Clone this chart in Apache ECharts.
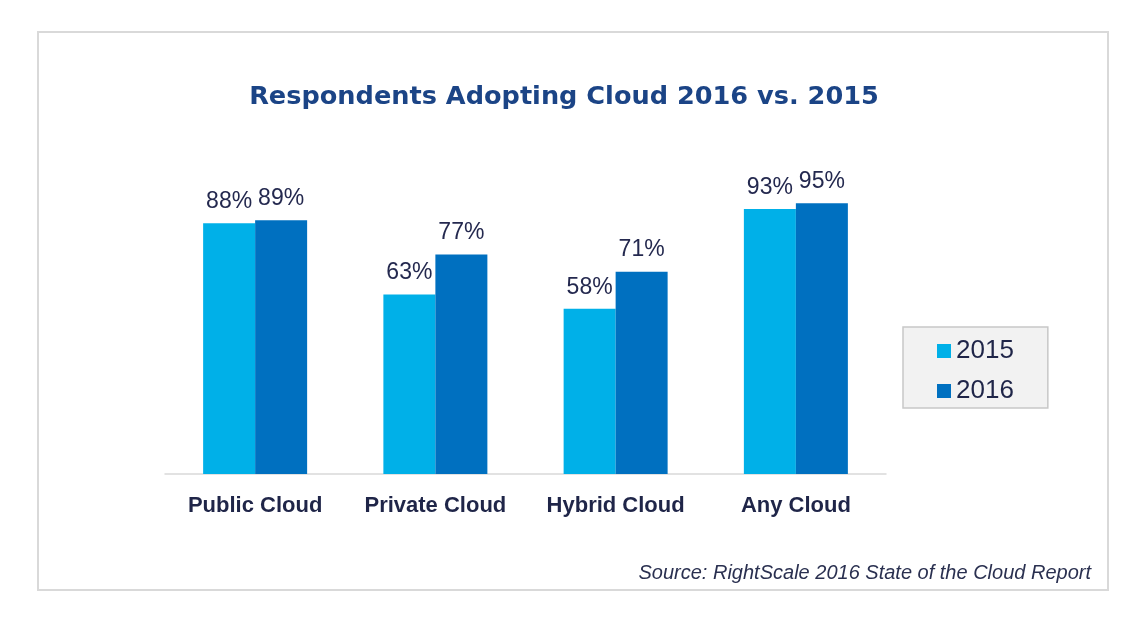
<!DOCTYPE html>
<html>
<head>
<meta charset="utf-8">
<script src="https://cdn.jsdelivr.net/npm/echarts@6/dist/echarts.min.js"></script>
<style>
html,body{margin:0;padding:0;background:#fff;}
#c{width:1144px;height:630px;}
</style>
</head>
<body>
<div id="c"></div>
<script>
const categories = ['Public Cloud', 'Private Cloud', 'Hybrid Cloud', 'Any Cloud'];
const values2015 = [88, 63, 58, 93];
const values2016 = [89, 77, 71, 95];
const seriesNames = ['2015', '2016'];

const chart = echarts.init(document.getElementById('c'), null, {renderer: 'canvas'});
const labelStyle = {
  show: true,
  position: 'top',
  distance: 10,
  formatter: '{c}%',
  fontFamily: 'Liberation Sans, Arial, sans-serif',
  fontSize: 23,
  color: '#24294f'
};
chart.setOption({
  backgroundColor: '#ffffff',
  animation: false,
  title: [{
    text: 'Respondents Adopting Cloud 2016 vs. 2015',
    left: 559,
    textAlign: 'center',
    top: 79,
    textStyle: {
      fontFamily: 'DejaVu Sans, sans-serif',
      fontWeight: 'bold',
      fontSize: 25.6,
      color: '#1b4486'
    }
  }, {
    text: 'Source: RightScale 2016 State of the Cloud Report',
    right: 48,
    top: 558,
    textStyle: {
      fontFamily: 'Liberation Sans, Arial, sans-serif',
      fontStyle: 'italic',
      fontWeight: 'normal',
      fontSize: 20,
      color: '#2a3050'
    }
  }],
  graphic: [{
    type: 'rect',
    shape: {x: 38, y: 32, width: 1070, height: 558},
    style: {fill: 'none', stroke: '#d9d9d9', lineWidth: 2},
    z: -1
  }],
  legend: {
    data: seriesNames,
    orient: 'vertical',
    left: 903,
    top: 327,
    padding: [10, 34, 3, 34],
    itemWidth: 14,
    itemHeight: 14,
    itemGap: 12,
    icon: 'rect',
    backgroundColor: '#f2f2f2',
    borderColor: '#c8c8c8',
    borderWidth: 1.5,
    textStyle: {
      fontFamily: 'Liberation Sans, Arial, sans-serif',
      fontSize: 26,
      lineHeight: 28,
      color: '#1f2548'
    }
  },
  grid: {left: 165, right: 258, top: 189, bottom: 156, containLabel: false},
  xAxis: {
    type: 'category',
    data: categories,
    axisLine: {lineStyle: {color: '#d9d9d9', width: 1.5}},
    axisTick: {show: false},
    axisLabel: {
      interval: 0,
      margin: 21,
      fontFamily: 'Liberation Sans, Arial, sans-serif',
      fontWeight: 'bold',
      fontSize: 22,
      color: '#1f2548'
    }
  },
  yAxis: {
    type: 'value',
    min: 0,
    max: 100,
    show: false
  },
  series: [{
    name: seriesNames[0],
    type: 'bar',
    data: values2015,
    barWidth: 52,
    barGap: '0%',
    itemStyle: {color: '#00b0e8'},
    label: labelStyle
  }, {
    name: seriesNames[1],
    type: 'bar',
    data: values2016,
    barWidth: 52,
    barGap: '0%',
    itemStyle: {color: '#0070c0'},
    label: labelStyle
  }]
});
</script>
</body>
</html>
